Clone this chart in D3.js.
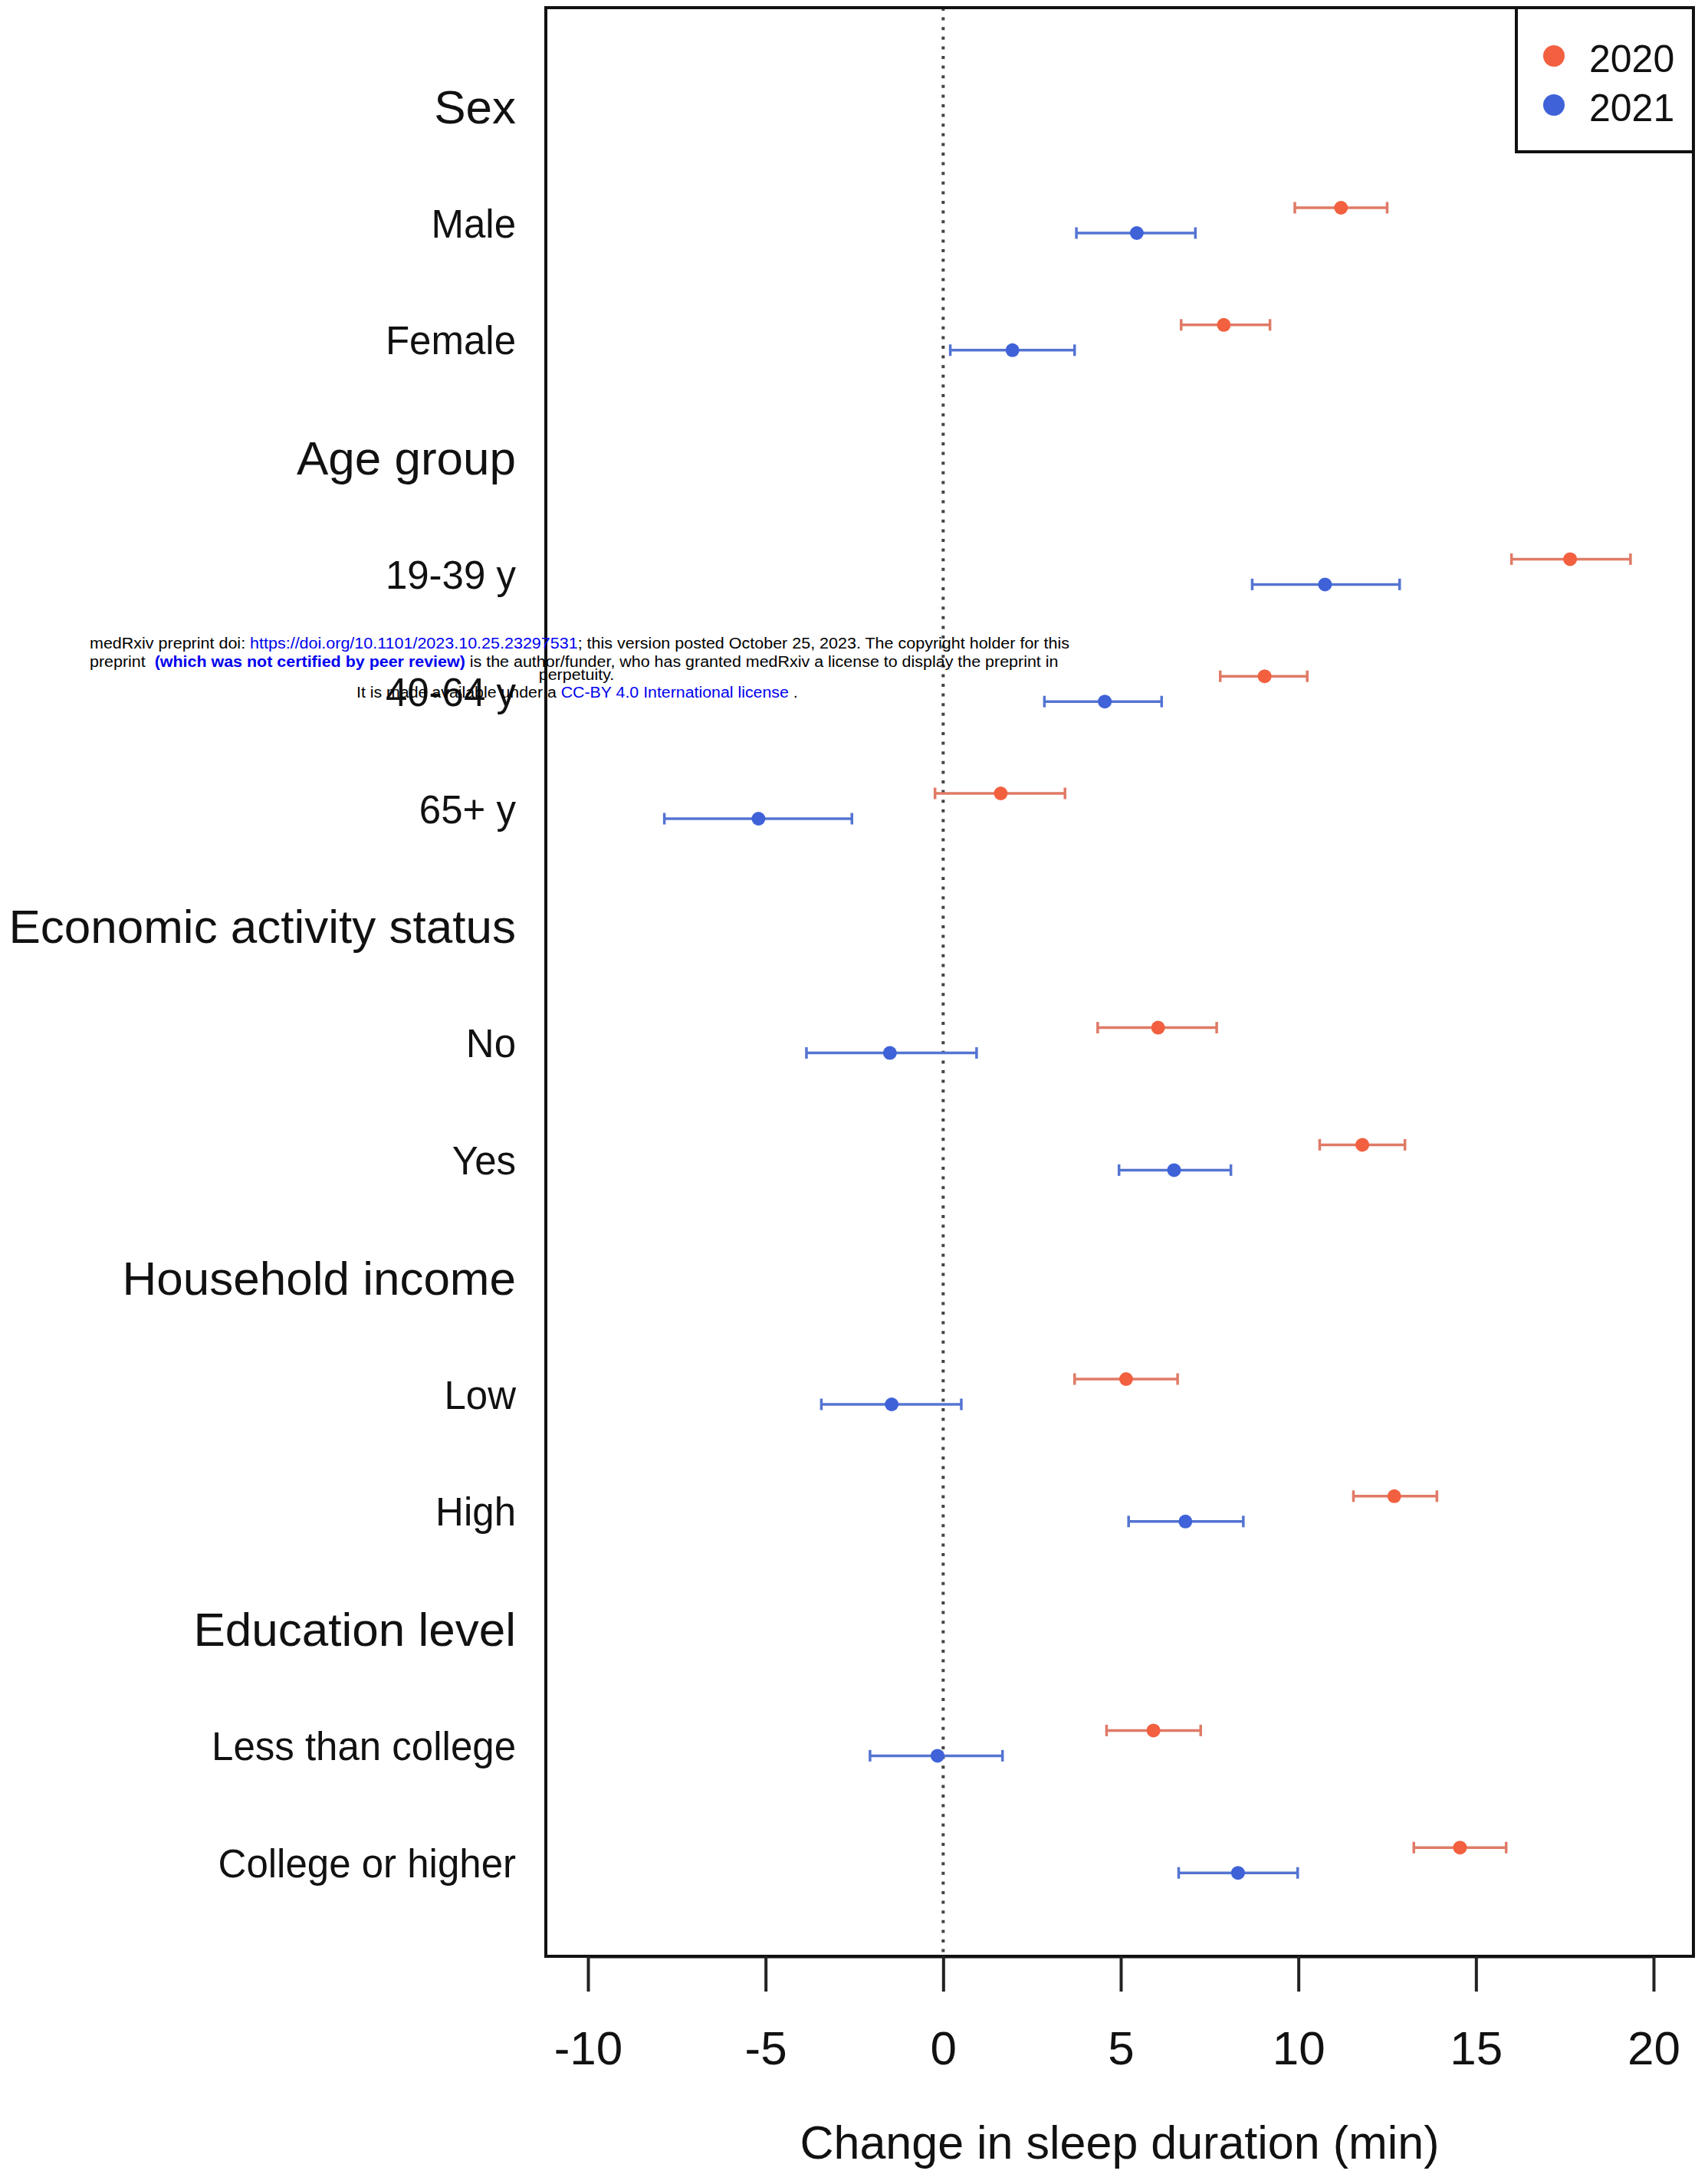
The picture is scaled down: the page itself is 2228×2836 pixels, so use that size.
<!DOCTYPE html>
<html>
<head>
<meta charset="utf-8">
<script src="https://cdn.jsdelivr.net/npm/d3@7"></script>
<style>
  body { margin: 0; background: #fff; }
  text { font-family: "Liberation Sans", Arial, Helvetica, sans-serif; }
</style>
</head>
<body>
<div id="chart"></div>
<script>

// rows of the plot, top to bottom (headers have no estimates)
const rowLabels = ["Sex", "Male", "Female", "Age group", "19-39 y", "40-64 y", "65+ y",
	"Economic activity status", "No", "Yes", "Household income", "Low", "High",
	"Education level", "Less than college", "College or higher"];
const headerRows = ["Sex", "Age group", "Economic activity status", "Household income", "Education level"];

const groups = ["Male", "Female", "19-39 y", "40-64 y", "65+ y", "No", "Yes", "Low", "High",
	"Less than college", "College or higher"];
const years = ["2020", "2021"];

// change in sleep duration (min), estimate and 95% CI
const est2020 = [11.2, 7.9, 17.65, 9.05, 1.62, 6.05, 11.8, 5.15, 12.7, 5.92, 14.55];
const lo2020  = [9.9, 6.7, 16.0, 7.8, -0.23, 4.35, 10.6, 3.7, 11.55, 4.6, 13.25];
const hi2020  = [12.5, 9.2, 19.35, 10.25, 3.43, 7.7, 13.0, 6.6, 13.9, 7.25, 15.85];

const est2021 = [5.45, 1.95, 10.75, 4.55, -5.2, -1.5, 6.5, -1.45, 6.82, -0.16, 8.3];
const lo2021  = [3.75, 0.2, 8.7, 2.85, -7.85, -3.85, 4.95, -3.43, 5.22, -2.06, 6.63];
const hi2021  = [7.1, 3.7, 12.85, 6.15, -2.57, 0.94, 8.1, 0.51, 8.45, 1.67, 9.98];

const xTicks = [-10, -5, 0, 5, 10, 15, 20];
const xTitle = "Change in sleep duration (min)";

const W = 2228, H = 2836;
const box = {left: 712, top: 10, right: 2209, bottom: 2552};
const colors = {"2020": "#f2603f", "2021": "#3f62d8"};
const barColors = {"2020": "#e07a66", "2021": "#5474d2"};

let rows = [];
groups.forEach((g, i) => {
	rows.push({group: g, year: "2020", est: est2020[i], lo: lo2020[i], hi: hi2020[i]});
	rows.push({group: g, year: "2021", est: est2021[i], lo: lo2021[i], hi: hi2021[i]});
});

const svg = d3.select("#chart").append("svg")
	.attr("width", W)
	.attr("height", H)
	.style("background", "#fff");

const x = d3.scaleLinear()
	.domain([-10, 20])
	.range([767, 2157]);

const y = d3.scalePoint()
	.domain(rowLabels)
	.range([134.7, 2426.7]);

const yearOffset = d3.scalePoint()
	.domain(years)
	.range([-16.5, 16.5]);

// zero reference line
svg.append("line")
	.attr("x1", x(0)).attr("x2", x(0))
	.attr("y1", box.top).attr("y2", box.bottom)
	.attr("stroke", "#444")
	.attr("stroke-width", 4)
	.attr("stroke-dasharray", "4,8.6");

// row labels
svg.append("g")
	.selectAll("text")
	.data(rowLabels)
	.join("text")
	.attr("x", 673)
	.attr("y", d => y(d) + (headerRows.includes(d) ? 26 : 22))
	.attr("text-anchor", "end")
	.attr("font-size", d => headerRows.includes(d) ? 62 : 51)
	.attr("fill", "#111")
	.text(d => d);

// error bars
let bars = svg.append("g")
	.selectAll("g.bar")
	.data(rows)
	.join("g")
	.attr("class", "bar")
	.attr("transform", d => `translate(0, ${y(d.group) + yearOffset(d.year)})`);

bars.append("line")
	.attr("x1", d => x(d.lo))
	.attr("x2", d => x(d.hi))
	.attr("stroke", d => barColors[d.year])
	.attr("stroke-width", 3.5);

bars.selectAll("line.cap")
	.data(d => [{v: d.lo, year: d.year}, {v: d.hi, year: d.year}])
	.join("line")
	.attr("class", "cap")
	.attr("x1", d => x(d.v)).attr("x2", d => x(d.v))
	.attr("y1", -7.5).attr("y2", 7.5)
	.attr("stroke", d => barColors[d.year])
	.attr("stroke-width", 3.5);

bars.append("circle")
	.attr("cx", d => x(d.est))
	.attr("r", 9)
	.attr("fill", d => colors[d.year]);

// plot box
svg.append("rect")
	.attr("x", box.left).attr("y", box.top)
	.attr("width", box.right - box.left)
	.attr("height", box.bottom - box.top)
	.attr("fill", "none")
	.attr("stroke", "#111")
	.attr("stroke-width", 4);

// x axis (plain hyphen minus like the original)
let xAxis = svg.append("g")
	.attr("transform", `translate(0, ${box.bottom})`)
	.call(d3.axisBottom(x).tickValues(xTicks).tickFormat(d => String(d)).tickSize(46).tickSizeOuter(0));

xAxis.select(".domain").attr("stroke", "#111").attr("stroke-width", 4);
xAxis.selectAll(".tick line").attr("stroke", "#222").attr("stroke-width", 4);
xAxis.selectAll(".tick text")
	.attr("y", 141)
	.attr("dy", null)
	.attr("font-size", 62)
	.attr("font-family", null)
	.attr("fill", "#111");

svg.append("text")
	.attr("x", (box.left + box.right) / 2)
	.attr("y", 2816)
	.attr("text-anchor", "middle")
	.attr("font-size", 61)
	.attr("fill", "#111")
	.text(xTitle);

// legend
let legend = svg.append("g");
legend.append("rect")
	.attr("x", 1978).attr("y", box.top)
	.attr("width", box.right - 1978)
	.attr("height", 198 - box.top)
	.attr("fill", "#fff")
	.attr("stroke", "#111")
	.attr("stroke-width", 4);

let legendY = d3.scalePoint().domain(years).range([73, 137]);
legend.selectAll("circle")
	.data(years)
	.join("circle")
	.attr("cx", 2027)
	.attr("cy", d => legendY(d))
	.attr("r", 14)
	.attr("fill", d => colors[d]);

legend.selectAll("text")
	.data(years)
	.join("text")
	.attr("x", 2073)
	.attr("y", d => legendY(d) + 21)
	.attr("font-size", 50)
	.attr("fill", "#111")
	.text(d => d);

// medRxiv watermark stamped over the figure
const stamp = [
	{y: 846, left: 117, width: 1278, parts: [
		["medRxiv preprint doi: ", "#000", false],
		["https://doi.org/10.1101/2023.10.25.23297531", "#0000ee", false],
		["; this version posted October 25, 2023. The copyright holder for this", "#000", false]]},
	{y: 870, left: 117, width: 1264, parts: [
		["preprint  ", "#000", false],
		["(which was not certified by peer review)", "#0000ee", true],
		[" is the author/funder, who has granted medRxiv a license to display the preprint in", "#000", false]]},
	{y: 887, center: 752, parts: [["perpetuity.", "#000", false]]},
	{y: 910, left: 465, width: 576, parts: [
		["It is made available under a ", "#000", false],
		["CC-BY 4.0 International license", "#0000ee", false],
		[" .", "#000", false]]}
];

let stampG = svg.append("g");
let squeeze = 1;
stamp.forEach(line => {
	let t = stampG.append("text")
		.attr("x", 0)
		.attr("y", 0)
		.attr("font-size", 21)
		.attr("xml:space", "preserve");
	line.parts.forEach(p => {
		t.append("tspan")
			.attr("fill", p[1])
			.attr("font-weight", p[2] ? "bold" : null)
			.text(p[0]);
	});
	let w = t.node().getComputedTextLength();
	if (line.width) {
		squeeze = line.width / w;
		t.attr("transform", `translate(${line.left}, ${line.y}) scale(${squeeze}, 1)`);
	} else {
		t.attr("transform", `translate(${line.center - w * squeeze / 2}, ${line.y}) scale(${squeeze}, 1)`);
	}
});

</script>
</body>
</html>
